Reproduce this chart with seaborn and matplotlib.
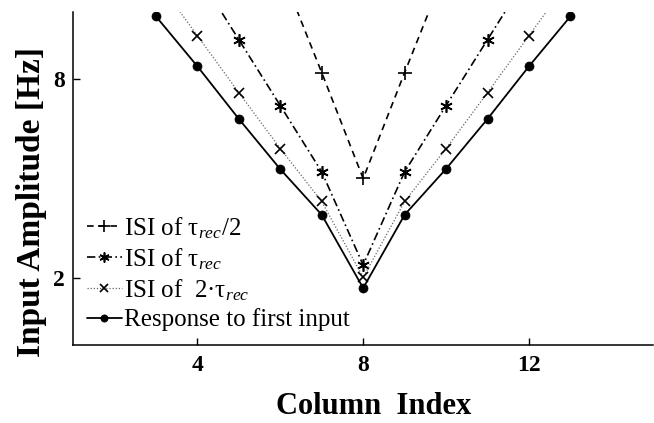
import numpy as np
import pandas as pd
import matplotlib
matplotlib.use("Agg")
import matplotlib.pyplot as plt
import seaborn as sns

# Column indices and input amplitudes (Hz) for each stimulation protocol
cols_half = [6, 7, 8, 9, 10]
amp_half = [11.3, 8.18, 5.0, 8.18, 11.3]

cols_tau = [4, 5, 6, 7, 8, 9, 10, 11, 12]
amp_tau = [11.15, 9.17, 7.19, 5.20, 2.40, 5.20, 7.19, 9.17, 11.15]

cols_two = [3, 4, 5, 6, 7, 8, 9, 10, 11, 12, 13]
amp_two = [11.0, 9.29, 7.58, 5.90, 4.31, 2.03, 4.31, 5.90, 7.58, 9.29, 11.0]

cols_first = [3, 4, 5, 6, 7, 8, 9, 10, 11, 12, 13]
amp_first = [9.87, 8.37, 6.79, 5.28, 3.91, 1.71, 3.91, 5.29, 6.79, 8.37, 9.87]

labels = [
    "ISI of τ$_{rec}$/2",
    "ISI of τ$_{rec}$",
    "ISI of  2·τ$_{rec}$",
    "Response to first input",
]

x_ticks = [4, 8, 12]
y_ticks = [2, 8]

sns.set_theme(style="ticks")
plt.rcParams["font.family"] = ["Liberation Serif", "DejaVu Serif"]
plt.rcParams["mathtext.fontset"] = "custom"
plt.rcParams["mathtext.rm"] = "Liberation Serif"
plt.rcParams["mathtext.it"] = "Liberation Serif:italic"
plt.rcParams["text.color"] = "black"
plt.rcParams["axes.labelcolor"] = "black"

fig = plt.figure(figsize=(6.54, 4.23), dpi=100)
ax = fig.add_axes([73 / 654, 1 - 345 / 423, 1 - 73 / 654 - 0.001, (345 - 12) / 423])

asterisk = (6, 2, 0)
styles = [
    dict(x=cols_half, y=amp_half, linestyle=(0, (4, 3)), marker="+", markersize=10,
         linewidth=1.2, markeredgewidth=1.2),
    dict(x=cols_tau, y=amp_tau, linestyle=(0, (5, 2, 1, 2)), marker=asterisk, markersize=9,
         linewidth=1.2, markeredgewidth=1.2),
    dict(x=cols_two, y=amp_two, linestyle=(0, (1, 1.5)), marker="x", markersize=7,
         linewidth=0.9, markeredgewidth=1.2),
    dict(x=cols_first, y=amp_first, linestyle="-", marker="o", markersize=6.5,
         linewidth=1.3, markeredgewidth=0.5),
]
line_colors = ["black", "black", "#666666", "black"]

for st, lab, col in zip(styles, labels, line_colors):
    x = st.pop("x")
    y = st.pop("y")
    sns.lineplot(x=x, y=y, ax=ax, label=lab, sort=False, color=col,
                 markeredgecolor="black", markerfacecolor="black", **st)

ax.set_xlim(1, 15)
ax.set_ylim(0, 10)
ax.set_xticks(x_ticks)
ax.set_yticks(y_ticks)
ax.tick_params(direction="in", length=5, width=1, labelsize=17, color="black",
               labelcolor="black")
ax.tick_params(axis="x", pad=7)
ax.tick_params(axis="y", pad=6)
for t in ax.get_xticklabels() + ax.get_yticklabels():
    t.set_fontweight("bold")

for side in ("top", "right"):
    ax.spines[side].set_visible(False)
for side in ("left", "bottom"):
    ax.spines[side].set_color("black")
    ax.spines[side].set_linewidth(1.1)

ax.set_xlabel("Column  Index", fontsize=22, fontweight="bold")
ax.set_ylabel("Input Amplitude [Hz]", fontsize=24, fontweight="bold")
ax.xaxis.set_label_coords(0.518, -0.185, transform=ax.transAxes)
ax.yaxis.set_label_coords(-0.072, 0.43, transform=ax.transAxes)
ax.yaxis.label.set_va("center")
ax.xaxis.label.set_va("center")

leg = ax.legend(loc="lower left", bbox_to_anchor=(0.0, 0.0), frameon=False,
                fontsize=18, handlelength=1.4, handletextpad=0.1,
                labelspacing=0.22, borderaxespad=0.15)
for line in leg.get_lines():
    line.set_markersize(line.get_markersize() * 0.8)

fig.savefig("out.png", dpi=100, facecolor="white")
